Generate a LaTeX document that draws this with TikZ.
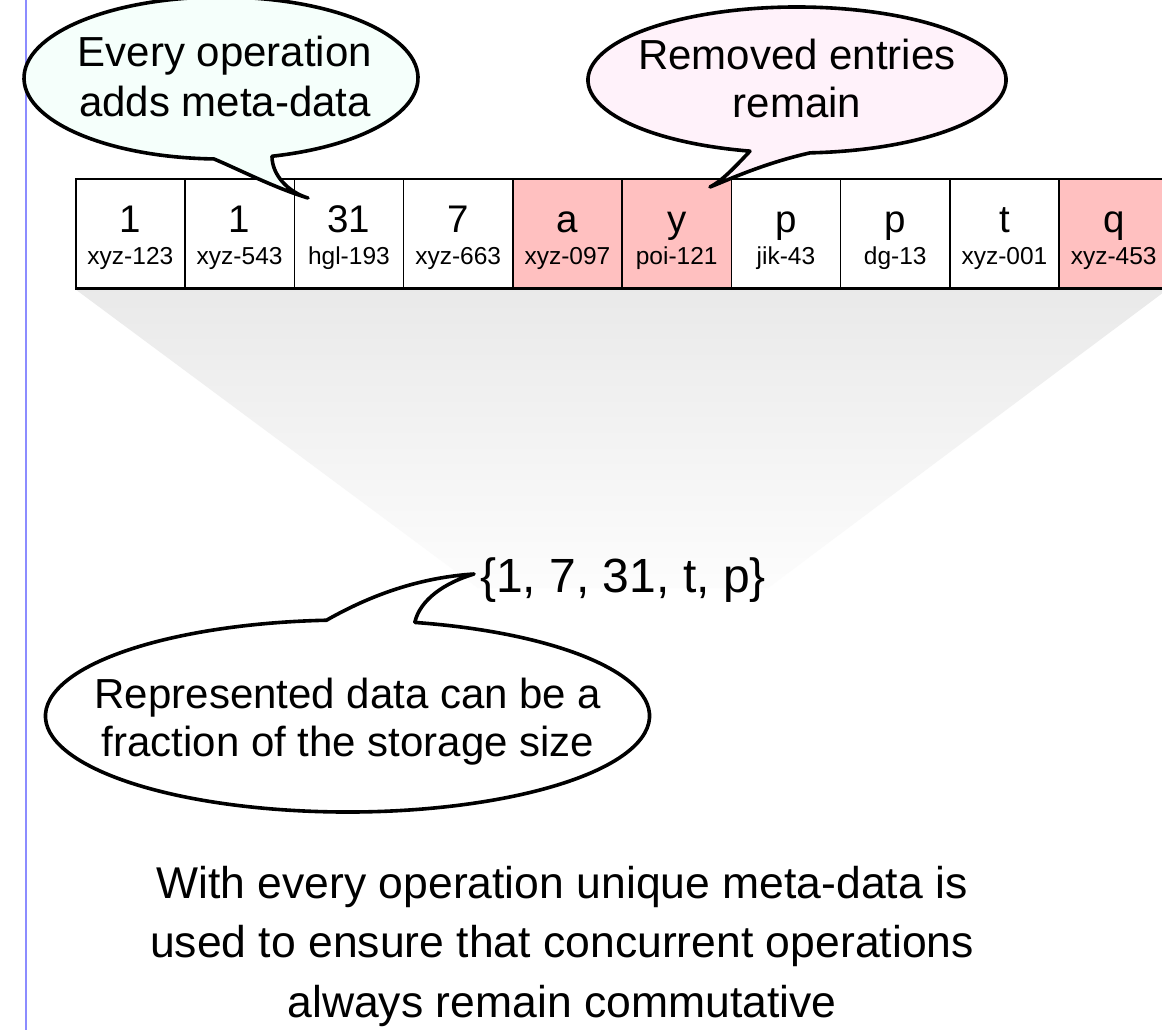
\documentclass[tikz,border=0pt]{standalone}
\usepackage{fontspec}
\setmainfont{Liberation Sans}
\definecolor{rail}{RGB}{140,140,255}
\definecolor{removed}{RGB}{255,192,192}
\definecolor{mintfill}{RGB}{245,255,251}
\definecolor{blushfill}{RGB}{255,242,250}
\tikzset{
  cellbox/.style={draw=black, line width=1.5pt, minimum width=109.26pt,
    minimum height=109pt, inner sep=0pt, anchor=north west},
  bigval/.style={font=\fontsize{38.5}{40}\selectfont, anchor=base, inner sep=0pt},
  tagval/.style={font=\fontsize{24.5}{26}\selectfont, anchor=base, inner sep=0pt},
  bubble/.style={draw=black, line width=3.6pt, line join=round},
  bubbletext/.style={font=\fontsize{42}{50}\selectfont, anchor=base, inner sep=0pt},
  settext/.style={font=\fontsize{48}{52}\selectfont, anchor=base, inner sep=0pt},
  captiontext/.style={font=\fontsize{44.5}{54}\selectfont, anchor=base, inner sep=0pt},
}
\begin{document}
\begin{tikzpicture}[x=1pt, y=-1pt]
\useasboundingbox (0,0) rectangle (1162,1030);
\clip (0,0) rectangle (1162,1030);
\fill[white] (0,0) rectangle (1162,1030);

% margin rule
\draw[rail, line width=2.5pt] (26,0) -- (26,1030);

% funnel from the stored list down to the represented set
\shade[top color=gray!17, bottom color=gray!2]
  (75,289) -- (1168,289) -- (768,588) -- (478,588) -- cycle;

% stored entries with their meta-data
\foreach \v/\t/\f [count=\i] in {1/xyz-123/white, 1/xyz-543/white, 31/hgl-193/white,
    7/xyz-663/white, a/xyz-097/removed, y/poi-121/removed, p/jik-43/white,
    p/dg-13/white, t/xyz-001/white, q/xyz-453/removed} {
  \node[cellbox, fill=\f] (cell\i) at ({75+109.26*(\i-1)},178) {};
  \node[bigval] (val\i) at ([yshift=-54pt]cell\i.north) {\v};
  \node[tagval] (tag\i) at ([yshift=-86pt]cell\i.north) {\t};
}
\draw[line width=3pt] (cell1.south west) -- (cell10.south east);

% represented set
\node[settext] (set) at (623,592) {\{1, 7, 31, t, p\}};

% callout: meta-data
\draw[bubble, fill=mintfill]
  (221,78) ++(92:197 and 81)
  arc[start angle=92, end angle=435, x radius=197, y radius=81]
  .. controls (272,175) and (288,192) .. (308,198)
  .. controls (275,188) and (240,170) .. (214.1,159) -- cycle;
\node[bubbletext] (meta1) at (225,67) {Every operation};
\node[bubbletext] (meta2) at (225,117) {adds meta-data};

% callout: removed entries
\draw[bubble, fill=blushfill]
  (797,80) ++(103:209 and 73)
  arc[start angle=103, end angle=446.4, x radius=209, y radius=73]
  .. controls (765,163) and (730,179) .. (710,187)
  .. controls (722,181) and (736,166) .. (750,151.1) -- cycle;
\node[bubbletext] (rem1) at (797,70) {Removed entries};
\node[bubbletext] (rem2) at (797,118) {remain};

% callout: represented data
\draw[bubble, fill=white]
  (347.5,716) ++(282.9:302 and 96)
  arc[start angle=282.9, end angle=626, x radius=302, y radius=96]
  .. controls (362,600) and (412,578) .. (474,574)
  .. controls (444,583) and (420,600) .. (414.9,622) -- cycle;
\node[bubbletext] (frac1) at (348,708) {Represented data can be a};
\node[bubbletext] (frac2) at (348,756) {fraction of the storage size};

% caption
\node[captiontext] (cap1) at (562,898) {With every operation unique meta-data is};
\node[captiontext] (cap2) at (562,957.5) {used to ensure that concurrent operations};
\node[captiontext] (cap3) at (562,1017) {always remain commutative};
\end{tikzpicture}
\end{document}
